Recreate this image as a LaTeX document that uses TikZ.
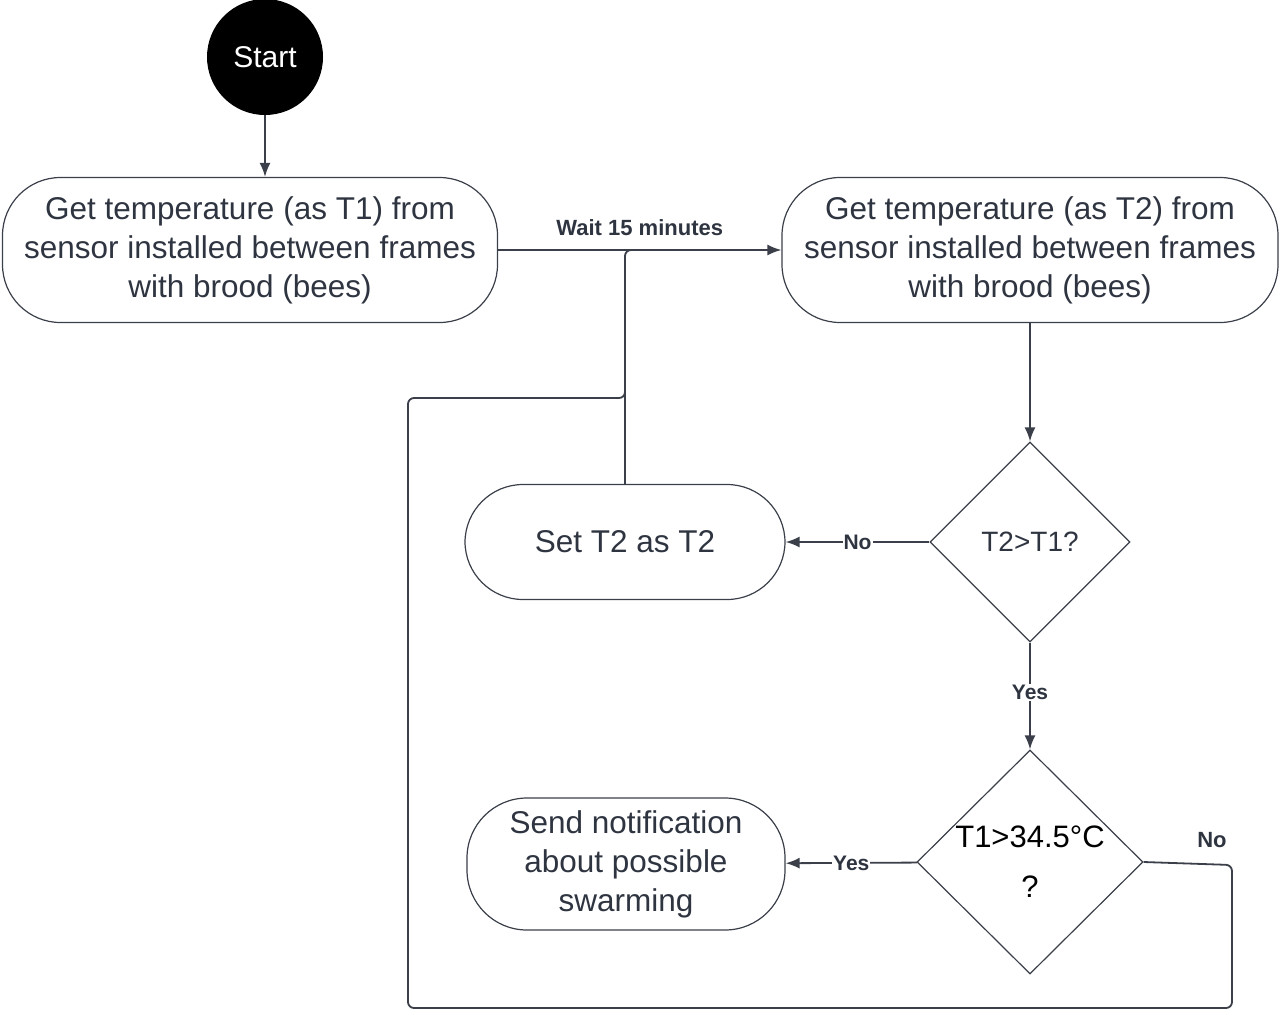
\documentclass[tikz,border=0pt]{standalone}
\usepackage{fontspec}
\setmainfont{Liberation Sans}
\usetikzlibrary{shapes.geometric,arrows.meta}
\definecolor{ln}{HTML}{3A3F4A}
\definecolor{tx}{HTML}{2E3440}
\begin{document}
\begin{tikzpicture}[x=1pt,y=-1pt,
  box/.style={draw=ln,line width=1.2pt,rounded corners=58pt,align=center,text=tx,font=\fontsize{31.5}{39}\selectfont,inner sep=0pt},
  dia/.style={draw=ln,line width=1.2pt,diamond,text=tx,align=center,inner sep=0pt},
  arr/.style={draw=ln,line width=1.8pt,-{Latex[length=14pt,width=11pt]}},
  lab/.style={font=\bfseries\fontsize{21}{24}\selectfont,text=tx,fill=white,inner sep=1pt}]
\useasboundingbox (0,0) rectangle (1280,1013);
\node[circle,fill=black,minimum size=116pt,text=white,font=\fontsize{30}{34}\selectfont] (s) at (265,57) {Start};
\node[box,minimum width=495pt,minimum height=145pt] (b1) at (250,250) {Get temperature (as T1) from\\sensor installed between frames\\with brood (bees)};
\node[box,minimum width=496pt,minimum height=145pt] (b2) at (1030,250) {Get temperature (as T2) from\\sensor installed between frames\\with brood (bees)};
\node[dia,minimum width=200pt,minimum height=200pt,font=\fontsize{28}{32}\selectfont] (d1) at (1030,542) {T2>T1?};
\node[box,minimum width=320pt,minimum height=115pt] (st) at (625,542) {Set T2 as T2};
\node[dia,minimum width=226pt,minimum height=224pt,text=black,font=\fontsize{31}{50}\selectfont] (d2) at (1030,862) {T1>34.5\textdegree C\\?};
\node[box,minimum width=318pt,minimum height=132pt,rounded corners=60pt] (sn) at (626,864) {Send notification\\about possible\\swarming};
\draw[arr] (s) -- (s |- b1.north);
\draw[arr] (b1) -- (b2) node[pos=0.5,above=10pt,font=\bfseries\fontsize{22}{24}\selectfont,text=tx] {Wait 15 minutes};
\draw[ln,line width=1.2pt] (st.north) -- (625,255);
\draw[arr] (b2) -- (d1);
\draw[arr] (d1) -- (st) node[lab,pos=0.5] {No};
\draw[arr] (d1) -- (d2) node[lab,pos=0.47] {Yes};
\draw[arr] (d2) -- (sn) node[lab,pos=0.5] {Yes};
\coordinate (c1) at (1232,865);
\draw[ln,line width=1.8pt,rounded corners=6pt] (d2.east) -- (c1) -- (1232,1008) -- (408,1008) -- (408,398) -- (625,398) -- (625,250) -- (640,250);
\node[font=\bfseries\fontsize{22}{24}\selectfont,text=tx] at (1212,840) {No};
\end{tikzpicture}
\end{document}
